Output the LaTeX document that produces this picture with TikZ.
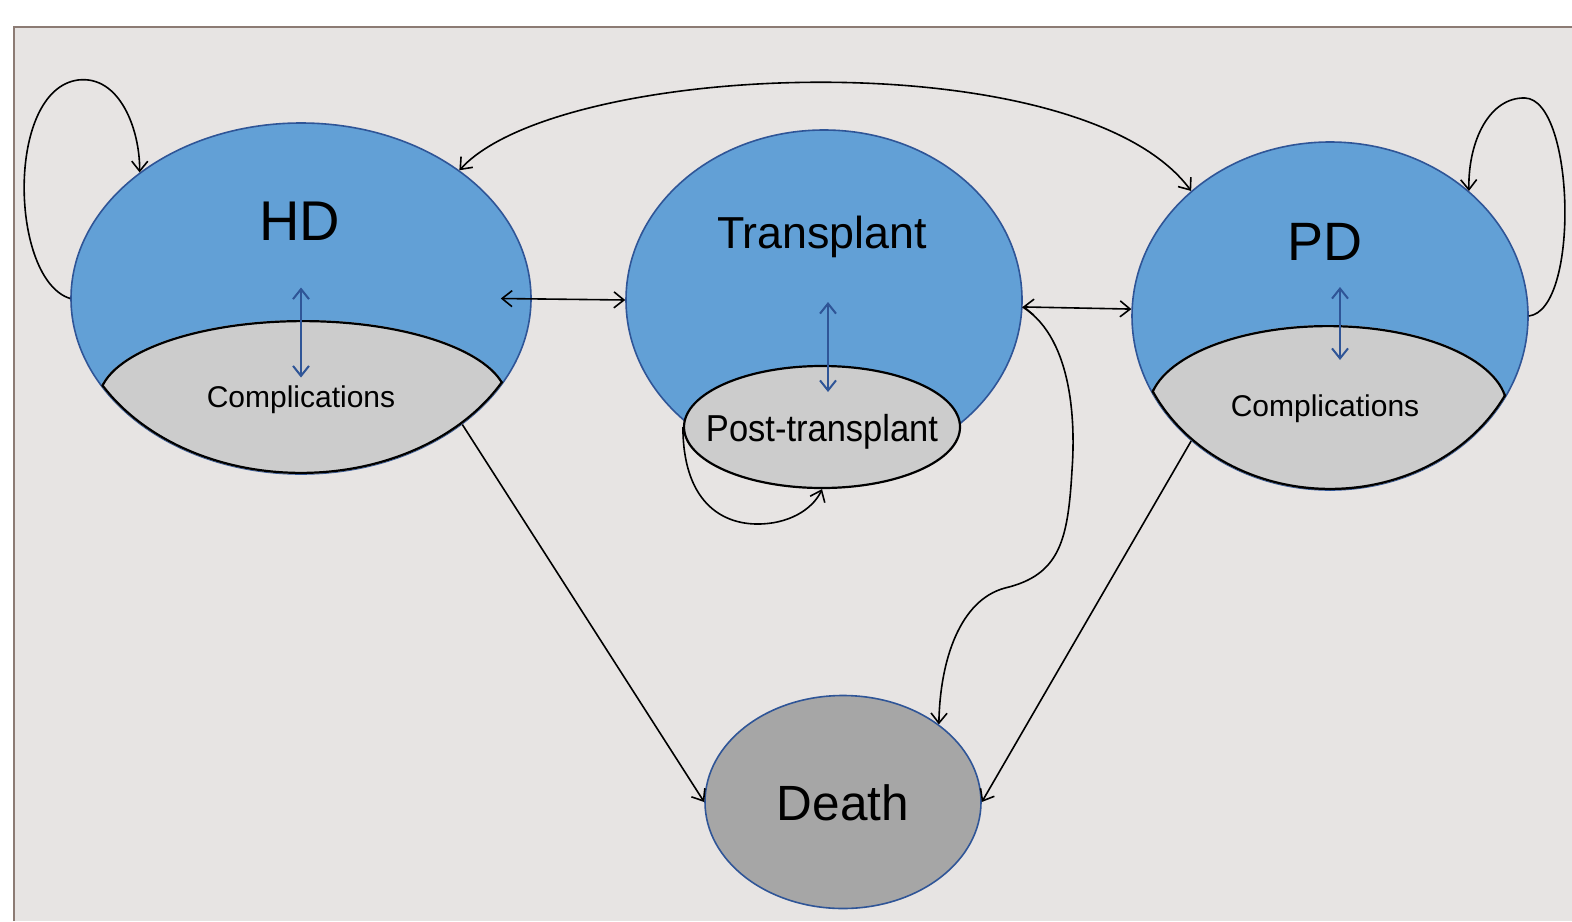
\documentclass[tikz,border=0pt]{standalone}
\usepackage{fontspec}
\setmainfont{Liberation Sans}
\usetikzlibrary{shapes.geometric,arrows.meta,calc}
\definecolor{bgc}{HTML}{E7E4E3}
\definecolor{framec}{HTML}{8C7B74}
\definecolor{stateblue}{HTML}{62A0D6}
\definecolor{edgeblue}{HTML}{2F5597}
\definecolor{innergray}{HTML}{CCCCCC}
\definecolor{deathgray}{HTML}{A6A6A6}
\begin{document}
\begin{tikzpicture}[x=0.5pt,y=-0.5pt,
  state/.style={ellipse, draw=edgeblue, line width=0.8pt, fill=stateblue, inner sep=0pt},
  sub/.style={ellipse, draw=black, line width=1.1pt, fill=innergray, inner sep=0pt},
  subarea/.style={ellipse, inner sep=0pt},
  conn/.style={draw=black, line width=0.8pt, -{Straight Barb[length=5pt,width=8pt]}},
  dconn/.style={draw=black, line width=0.8pt, {Straight Barb[length=5pt,width=8pt]}-{Straight Barb[length=5pt,width=8pt]}},
  barrow/.style={draw=edgeblue, line width=1pt, {Straight Barb[length=5pt,width=8pt]}-{Straight Barb[length=5pt,width=8pt]}},
  lab/.style={anchor=base, inner sep=0pt, text=black}
]
\useasboundingbox (0,0) rectangle (1572,921);
\fill[white] (0,0) rectangle (1572,921);
\fill[bgc] (14,27) rectangle (1572,921);
\draw[framec, line width=1pt] (14,921) -- (14,27) -- (1572,27);

% states
\node[state, minimum width=230pt, minimum height=175.5pt] (hd) at (301,298.5) {};
\node[subarea, minimum width=205pt, minimum height=80pt] (hdc) at (303,400) {};
\node[state, minimum width=198pt, minimum height=170pt] (t) at (824,300) {};
\node[sub, minimum width=138pt, minimum height=61pt] (ptc) at (822,427) {};
\node[state, minimum width=198pt, minimum height=174pt] (pd) at (1330,316) {};
\node[subarea, minimum width=180pt, minimum height=83pt] (pdc) at (1328,408) {};
\node[ellipse, draw=edgeblue, line width=0.8pt, fill=deathgray, inner sep=0pt,
      minimum width=138pt, minimum height=106.5pt] (death) at (843,802) {};

% lens-shaped complication areas (sub-ellipse cut by the state ellipse)
\begin{scope}
  \clip (hd.center) ellipse [x radius=115pt, y radius=87.75pt];
  \clip (hdc.center) ellipse [x radius=102.5pt, y radius=40pt];
  \fill[innergray] (hdc.center) ellipse [x radius=102.5pt, y radius=40pt];
  \draw[black, line width=2.2pt] (hdc.center) ellipse [x radius=102.5pt, y radius=40pt];
  \draw[black, line width=2.2pt] (hd.center) ellipse [x radius=115pt, y radius=87.75pt];
\end{scope}
\begin{scope}
  \clip (pd.center) ellipse [x radius=99pt, y radius=87pt];
  \clip (pdc.center) ellipse [x radius=90pt, y radius=41.5pt];
  \fill[innergray] (pdc.center) ellipse [x radius=90pt, y radius=41.5pt];
  \draw[black, line width=2.2pt] (pdc.center) ellipse [x radius=90pt, y radius=41.5pt];
  \draw[black, line width=2.2pt] (pd.center) ellipse [x radius=99pt, y radius=87pt];
\end{scope}

% labels
\node[lab, font=\fontsize{28}{30}\selectfont] (hdl) at (300,240) {HD};
\node[lab, font=\fontsize{22.4}{24}\selectfont] (tl) at (822,248) {Transplant};
\node[lab, font=\fontsize{27}{29}\selectfont] (pdl) at (1325,260) {PD};
\node[lab, font=\fontsize{15}{17}\selectfont] (hdcl) at (301,407) {Complications};
\node[lab, font=\fontsize{15}{17}\selectfont] (pdcl) at (1325,416) {Complications};
\node[lab, font=\fontsize{18.75}{20}\selectfont, xscale=0.92] (ptl) at (822,441) {Post-transplant};
\node[lab, font=\fontsize{24.75}{27}\selectfont] (dl) at (843,820) {Death};

% inner blue arrows
\draw[barrow] ($(hd.center)+(0,-11)$) -- ($(hd.center)+(0,79)$);
\draw[barrow] ($(t.center)+(4,2)$) -- ($(t.center)+(4,92)$);
\draw[barrow] ($(pd.center)+(10,-29)$) -- ($(pd.center)+(10,44)$);

% connectors
\draw[conn] (hd.180) .. controls (10,280) and (5,90) .. (78,80) .. controls (120,75) and (140,130) .. (hd.142);
\draw[dconn] (hd.39) .. controls (560,60) and (1080,40) .. (pd.138);
\draw[dconn] ([xshift=-15.5pt]hd.east) -- (t.west);
\draw[dconn] (t.-2) -- (pd.178);
\draw[conn] (t.-2) .. controls (1075,340) and (1075,430) .. (1072,470) .. controls (1068,540) and (1060,575) .. (1005,588) .. controls (960,600) and (940,660) .. (death.39);
\draw[conn] (hd.-38) -- (death.west);
\draw[conn] (pd.222) -- (death.east);
\draw[conn] (ptc.west) .. controls (683,500) and (720,525) .. (760,524) .. controls (795,523) and (815,505) .. (ptc.south);
\draw[conn] (pd.east) .. controls (1580,310) and (1575,100) .. (1525,98) .. controls (1490,97) and (1468,140) .. (pd.42);
\end{tikzpicture}
\end{document}
